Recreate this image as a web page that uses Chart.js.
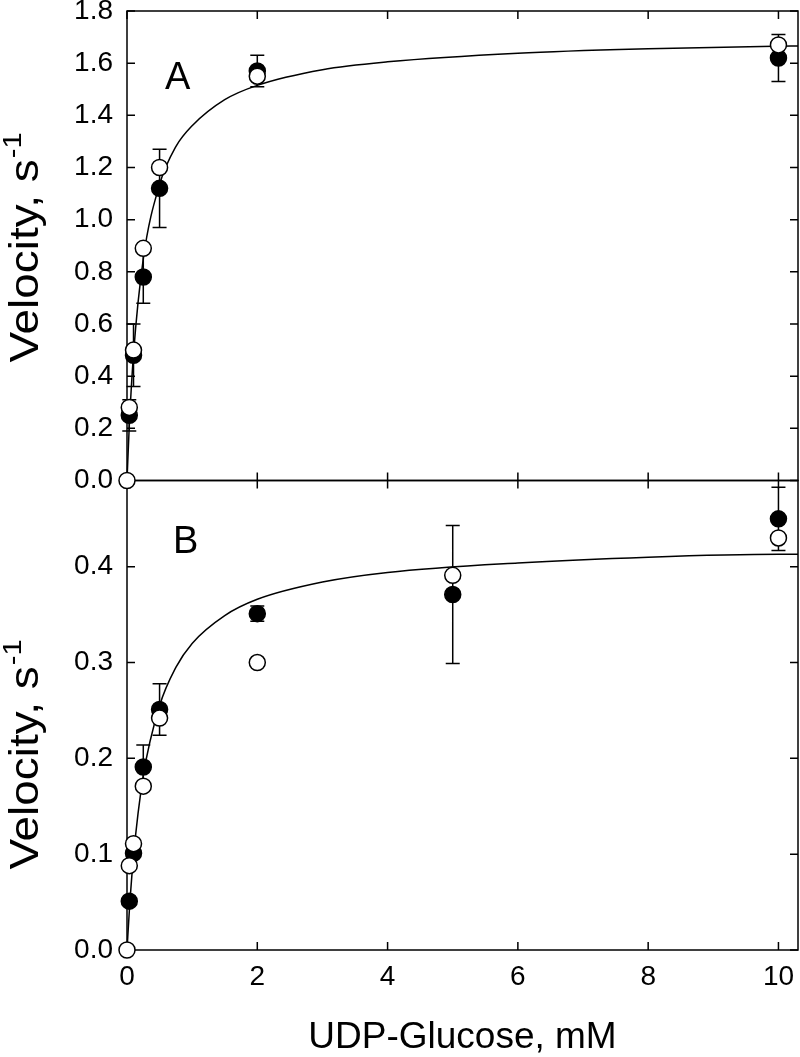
<!DOCTYPE html>
<html><head><meta charset="utf-8">
<script src="https://cdn.jsdelivr.net/npm/chart.js@4.4.1/dist/chart.umd.min.js"></script>
<style>html,body{margin:0;padding:0;background:#fff;}#wrap{position:relative;width:800px;height:1057px;}canvas{display:block;}</style>
</head><body><div id="wrap"><canvas id="c" width="800" height="1057"></canvas></div>
<script>
// ---------- data ----------
const xTicks = [0, 2, 4, 6, 8, 10];
const yTicksA = [0, 0.2, 0.4, 0.6, 0.8, 1.0, 1.2, 1.4, 1.6, 1.8];
const yTicksB = [0, 0.1, 0.2, 0.3, 0.4];

// Panel A
const concOpenA   = [0, 0.035, 0.1, 0.25, 0.5, 2, 10];
const openA       = [0, 0.28, 0.50, 0.89, 1.20, 1.55, 1.67];
const concFilledA = [0.035, 0.1, 0.25, 0.5, 2, 10];
const filledA     = [0.25, 0.48, 0.78, 1.12, 1.57, 1.62];
const errA        = [0.06, 0.12, 0.10, 0.15, 0.06, 0.09];
const fitXA       = [0, 0.035, 0.1, 0.25, 0.5, 0.75, 1, 1.5, 2, 3, 4, 6, 8, 10, 10.3];
const fitA        = [0, 0.21, 0.485, 0.85, 1.135, 1.28, 1.36, 1.46, 1.515, 1.575, 1.605, 1.638, 1.655, 1.665, 1.666];

// Panel B
const concOpenB   = [0, 0.035, 0.1, 0.25, 0.5, 2, 5, 10];
const openB       = [0, 0.088, 0.111, 0.171, 0.242, 0.300, 0.391, 0.430];
const concFilledB = [0.035, 0.1, 0.25, 0.5, 2, 5, 10];
const filledB     = [0.051, 0.101, 0.191, 0.251, 0.351, 0.371, 0.450];
const errB        = [0, 0, 0.023, 0.027, 0.008, 0.072, 0.033];
const fitXB       = [0, 0.035, 0.1, 0.25, 0.5, 0.75, 1, 1.5, 2, 3, 4, 6, 8, 10, 10.3];
const fitB        = [0, 0.040, 0.098, 0.182, 0.255, 0.295, 0.320, 0.349, 0.366, 0.384, 0.394, 0.404, 0.410, 0.413, 0.413];

const xTitle = 'UDP-Glucose, mM';
const yTitleMain = 'Velocity, s';
const yTitleSup = '-1';
const panelLabels = ['A', 'B'];
// -----------------------------------------------

const FONT = "'Liberation Sans', Arial, Helvetica, sans-serif";
const pts = (xs, ys) => xs.map((x, i) => ({x: x, y: ys[i]}));

function markerSet(xs, ys, axis, filled, order) {
  return {
    type: 'scatter', data: pts(xs, ys), yAxisID: axis, order: order, clip: false,
    pointRadius: 8, pointHoverRadius: 8, pointBorderWidth: 1.5,
    pointBackgroundColor: filled ? '#000' : '#fff', pointBorderColor: '#000',
    showLine: false
  };
}
function fitSet(xs, ys, axis) {
  return {
    type: 'scatter', data: pts(xs, ys), yAxisID: axis, order: 5, clip: false,
    showLine: true, borderColor: '#000', borderWidth: 1.5, pointRadius: 0, pointHoverRadius: 0,
    cubicInterpolationMode: 'monotone', fill: false
  };
}

const TICK = 8;
const framePlugin = {
  id: 'frame',
  beforeDatasetsDraw(chart) {
    const ctx = chart.ctx, x = chart.scales.x, yA = chart.scales.yA, yB = chart.scales.yB;
    const L = chart.chartArea.left, R = chart.chartArea.right;
    ctx.save();
    ctx.strokeStyle = '#000'; ctx.lineWidth = 1.5;
    [yA, yB].forEach(s => { ctx.strokeRect(L, s.top, R - L, s.bottom - s.top); });
    ctx.beginPath();
    [[yA, yTicksA], [yB, yTicksB]].forEach(([s, tks]) => {
      tks.forEach(v => {
        const py = s.getPixelForValue(v);
        ctx.moveTo(L, py); ctx.lineTo(L + TICK, py);
        ctx.moveTo(R, py); ctx.lineTo(R - TICK, py);
      });
    });
    xTicks.forEach(v => {
      const px = x.getPixelForValue(v);
      [yA, yB].forEach(s => {
        ctx.moveTo(px, s.top); ctx.lineTo(px, s.top + TICK);
        ctx.moveTo(px, s.bottom); ctx.lineTo(px, s.bottom - TICK);
      });
    });
    ctx.stroke();
    const drawErr = (xs, ys, es, s) => {
      ctx.beginPath();
      xs.forEach((xv, i) => {
        const e = es[i]; if (!e) return;
        const px = x.getPixelForValue(xv);
        const p1 = s.getPixelForValue(ys[i] + e), p2 = s.getPixelForValue(ys[i] - e);
        ctx.moveTo(px, p1); ctx.lineTo(px, p2);
        ctx.moveTo(px - 7, p1); ctx.lineTo(px + 7, p1);
        ctx.moveTo(px - 7, p2); ctx.lineTo(px + 7, p2);
      });
      ctx.stroke();
    };
    drawErr(concFilledA, filledA, errA, yA);
    drawErr(concFilledB, filledB, errB, yB);
    ctx.restore();
  },
  afterDraw(chart) {
    const ctx = chart.ctx, yA = chart.scales.yA, yB = chart.scales.yB;
    const L = chart.chartArea.left, R = chart.chartArea.right;
    ctx.save();
    ctx.fillStyle = '#000';
    const drawYTitle = (cy) => {
      ctx.save();
      ctx.translate(38, cy);
      ctx.rotate(-Math.PI / 2);
      ctx.scale(1.12, 1);
      ctx.font = '41px ' + FONT;
      const w1 = ctx.measureText(yTitleMain).width;
      ctx.font = '26px ' + FONT;
      const w2 = ctx.measureText(yTitleSup).width;
      const start = -(w1 + w2) / 2;
      ctx.textBaseline = 'alphabetic'; ctx.textAlign = 'left';
      ctx.font = '41px ' + FONT;
      ctx.fillText(yTitleMain, start, 0);
      ctx.font = '26px ' + FONT;
      ctx.fillText(yTitleSup, start + w1 + 1, -17);
      ctx.restore();
    };
    drawYTitle(248);
    drawYTitle(755);
    ctx.font = '37px ' + FONT;
    ctx.textAlign = 'center'; ctx.textBaseline = 'alphabetic';
    ctx.fillText(xTitle, (L + R) / 2, 1048);
    ctx.font = '38px ' + FONT;
    ctx.textAlign = 'left';
    ctx.fillText(panelLabels[0], L + 38, yA.top + 78);
    ctx.fillText(panelLabels[1], L + 46, yB.top + 72);
    ctx.restore();
  }
};

const tickFont = {family: FONT, size: 28};
new Chart(document.getElementById('c'), {
  type: 'scatter',
  data: {
    datasets: [
      markerSet(concOpenA, openA, 'yA', false, 0),
      markerSet(concOpenB, openB, 'yB', false, 0),
      markerSet(concFilledA, filledA, 'yA', true, 1),
      markerSet(concFilledB, filledB, 'yB', true, 1),
      fitSet(fitXA, fitA, 'yA'),
      fitSet(fitXB, fitB, 'yB')
    ]
  },
  options: {
    responsive: false, animation: false, devicePixelRatio: 1,
    layout: {padding: {top: 11, right: 2, left: 0, bottom: 0}, autoPadding: false},
    plugins: {legend: {display: false}, tooltip: {enabled: false}, title: {display: false}},
    events: [],
    scales: {
      x: {
        type: 'linear', position: 'bottom', min: 0, max: 10.3,
        afterFit: s => { s.height = 107; s.paddingLeft = 0; s.paddingRight = 0; },
        grid: {display: false, drawTicks: false}, border: {display: false},
        afterBuildTicks: s => { s.ticks = xTicks.map(v => ({value: v})); },
        ticks: {padding: 10, color: '#000', font: tickFont, maxRotation: 0, autoSkip: false, includeBounds: false}
      },
      yA: {
        type: 'linear', position: 'left', stack: 'v', stackWeight: 1, weight: 1, min: 0, max: 1.8,
        afterFit: s => { s.width = 127; s.paddingTop = 0; s.paddingBottom = 0; },
        grid: {display: false, drawTicks: false}, border: {display: false},
        afterBuildTicks: s => { s.ticks = yTicksA.map(v => ({value: v})); },
        ticks: {padding: 14, color: '#000', font: tickFont, callback: v => v.toFixed(1), autoSkip: false}
      },
      yB: {
        type: 'linear', position: 'left', stack: 'v', stackWeight: 1, weight: 0, min: 0, max: 0.49,
        afterFit: s => { s.width = 127; s.paddingTop = 0; s.paddingBottom = 0; },
        grid: {display: false, drawTicks: false}, border: {display: false},
        afterBuildTicks: s => { s.ticks = yTicksB.map(v => ({value: v})); },
        ticks: {padding: 14, color: '#000', font: tickFont, callback: v => v.toFixed(1), autoSkip: false}
      }
    }
  },
  plugins: [framePlugin]
});
</script></body></html>
